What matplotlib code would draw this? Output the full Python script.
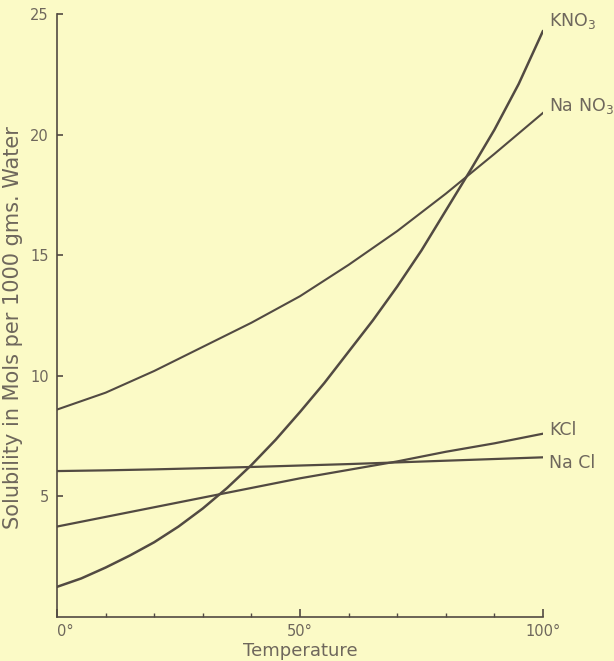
import numpy as np
import matplotlib
matplotlib.use('Agg')
import matplotlib.pyplot as plt

# temperatures (deg C) and solubility (mols per 1000 g water)
t_fine = [0, 5, 10, 15, 20, 25, 30, 35, 40, 45, 50, 55, 60, 65, 70, 75, 80, 85, 90, 95, 100]
kno3 = [1.25, 1.6, 2.05, 2.55, 3.1, 3.75, 4.5, 5.35, 6.3, 7.35, 8.5, 9.7, 11.0, 12.3, 13.7,
        15.2, 16.85, 18.5, 20.2, 22.1, 24.3]

t = [0, 10, 20, 30, 40, 50, 60, 70, 80, 90, 100]
nano3 = [8.6, 9.3, 10.2, 11.2, 12.2, 13.3, 14.6, 16.0, 17.55, 19.2, 20.9]
kcl = [3.75, 4.15, 4.55, 4.95, 5.35, 5.75, 6.1, 6.45, 6.85, 7.2, 7.6]
nacl = [6.05, 6.08, 6.12, 6.17, 6.22, 6.28, 6.34, 6.41, 6.48, 6.55, 6.62]

labels = [r'KNO$_3$', r'Na NO$_3$', 'KCl', 'Na Cl']
label_y = [24.7, 21.2, 7.75, 6.4]

bg = '#fbfac6'
ink = '#524a42'
txt = '#6e675c'

fig = plt.figure(figsize=(6.14, 6.61), dpi=100, facecolor=bg)
ax = fig.add_axes([57 / 614, 1 - 617 / 661, (543 - 57) / 614, (617 - 14) / 661])
ax.set_facecolor(bg)

ax.plot(t_fine, kno3, color=ink, lw=1.8, solid_capstyle='round')
ax.plot(t, nano3, color=ink, lw=1.5)
ax.plot(t, kcl, color=ink, lw=1.6)
ax.plot(t, nacl, color=ink, lw=1.6)

for lab, ly in zip(labels, label_y):
    ax.text(101.2, ly, lab, fontsize=12.5, color=txt, ha='left', va='center', clip_on=False)

ax.set_xlim(0, 100)
ax.set_ylim(0, 25)
for s in ['top', 'right']:
    ax.spines[s].set_visible(False)
for s in ['left', 'bottom']:
    ax.spines[s].set_color(ink)
    ax.spines[s].set_linewidth(1.2)

ax.set_xticks([0, 50, 100])
ax.set_xticklabels(['0°', '50°', '100°'])
ax.get_xticklabels()[0].set_ha('left')
ax.set_xticks(np.arange(10, 100, 10), minor=True)
ax.tick_params(axis='x', which='major', direction='in', length=6, width=1.2, color=ink,
               labelcolor=txt, labelsize=10.5, pad=5)
ax.tick_params(axis='x', which='minor', direction='in', length=3, width=1.0, color=ink)

ax.set_yticks([5, 10, 15, 20, 25])
ax.set_yticklabels(['5', '10', '15', '20', '25'])
ax.tick_params(axis='y', direction='in', length=4, width=1.2, color=ink,
               labelcolor=txt, labelsize=10.5, pad=6)

ax.set_xlabel('Temperature', fontsize=13, color=txt, labelpad=2)
ax.set_ylabel('Solubility in Mols per 1000 gms. Water', fontsize=15, color=txt, labelpad=3)
ax.yaxis.set_label_coords(-0.07, 0.48)

fig.savefig('out.png', dpi=100, facecolor=bg)
